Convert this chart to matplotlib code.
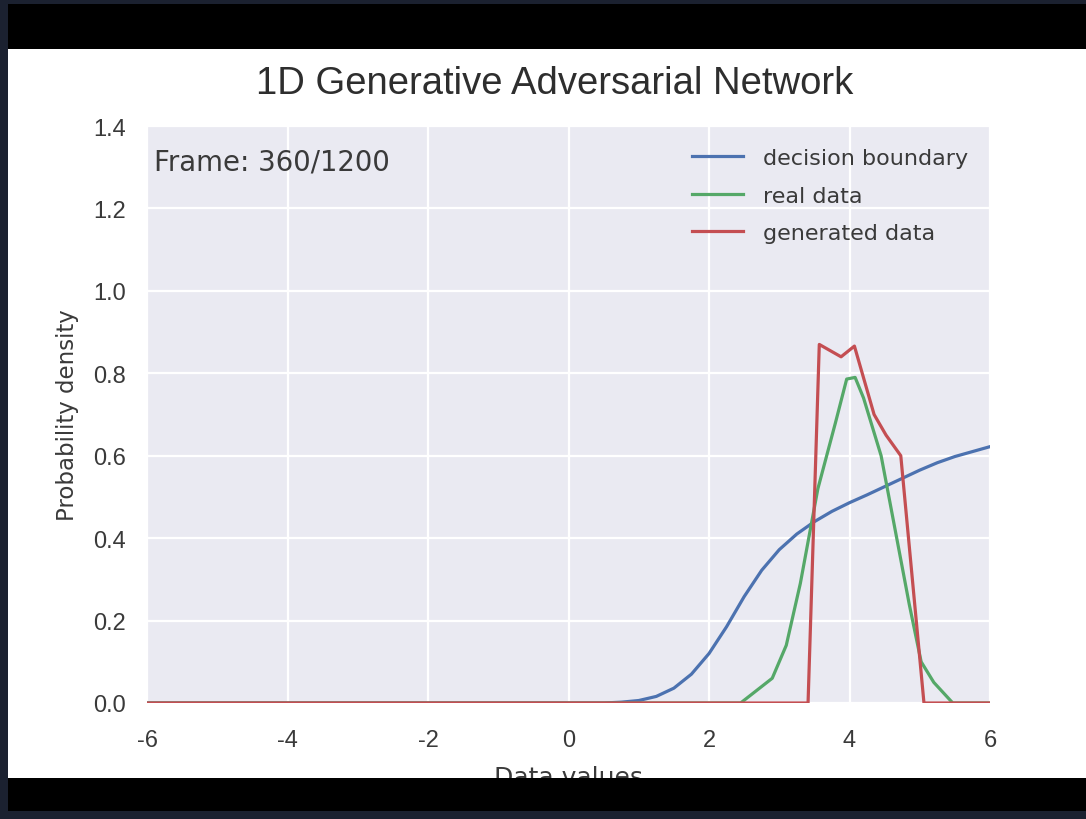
import matplotlib
matplotlib.use("Agg")
import matplotlib.pyplot as plt
from matplotlib.patches import Rectangle

# ---------------- data ----------------
title_text = "1D Generative Adversarial Network"
frame_label = "Frame: 360/1200"
series_names = ["decision boundary", "real data", "generated data"]

db_x = [-6.0, 0.5, 0.75, 1.0, 1.25, 1.5, 1.75, 2.0, 2.25, 2.5, 2.75, 3.0, 3.25,
        3.5, 3.75, 4.0, 4.25, 4.5, 4.75, 5.0, 5.25, 5.5, 5.75, 6.0]
db_y = [0.0, 0.0, 0.002, 0.006, 0.016, 0.036, 0.07, 0.12, 0.185, 0.258, 0.322,
        0.372, 0.41, 0.44, 0.465, 0.486, 0.505, 0.525, 0.545, 0.565, 0.583,
        0.598, 0.61, 0.622]

real_x = [-6.0, 2.45, 2.9, 3.1, 3.3, 3.55, 3.8, 3.96, 4.08, 4.2, 4.45, 4.65,
          4.85, 5.02, 5.2, 5.47, 6.0]
real_y = [0.0, 0.0, 0.06, 0.14, 0.29, 0.52, 0.68, 0.786, 0.79, 0.74, 0.60,
          0.42, 0.24, 0.10, 0.05, 0.0, 0.0]

gen_x = [-6.0, 3.41, 3.57, 3.88, 4.07, 4.35, 4.52, 4.73, 5.06, 6.0]
gen_y = [0.0, 0.0, 0.87, 0.84, 0.866, 0.70, 0.65, 0.60, 0.0, 0.0]

xticks = [-6, -4, -2, 0, 2, 4, 6]
xtick_labels = ["-6", "-4", "-2", "0", "2", "4", "6"]
yticks = [0.0, 0.2, 0.4, 0.6, 0.8, 1.0, 1.2, 1.4]
ytick_labels = ["0.0", "0.2", "0.4", "0.6", "0.8", "1.0", "1.2", "1.4"]

# ---------------- style ----------------
plt.rcParams["axes.unicode_minus"] = False
W, H = 1086, 820
fig = plt.figure(figsize=(W / 100, H / 100), dpi=100, facecolor="white")

ax = fig.add_axes([147 / W, 1 - 704 / H, (990 - 147) / W, (704 - 127) / H])
ax.set_facecolor("#EAEAF2")
for s in ax.spines.values():
    s.set_visible(False)
ax.grid(True, color="white", linewidth=1.6)
ax.set_axisbelow(True)

c_blue, c_green, c_red = "#4C72B0", "#55A868", "#C44E52"
ax.plot(db_x, db_y, color=c_blue, lw=2.3, label=series_names[0])
ax.plot(real_x, real_y, color=c_green, lw=2.3, label=series_names[1])
ax.plot(gen_x, gen_y, color=c_red, lw=2.3, label=series_names[2])

ax.set_xlim(-6, 6)
ax.set_ylim(0, 1.4)
txtc = "#3a3a3a"
ax.set_xticks(xticks)
ax.set_xticklabels(xtick_labels, fontfamily="Liberation Sans", fontsize=17, color=txtc)
ax.set_yticks(yticks)
ax.set_yticklabels(ytick_labels, fontfamily="Liberation Sans", fontsize=17, color=txtc)
ax.tick_params(axis="x", length=0, pad=18.5)
ax.tick_params(axis="y", length=0, pad=15)

ax.set_xlabel("Data values", fontfamily="DejaVu Sans", fontsize=18, color=txtc, labelpad=10)
ax.set_ylabel("Probability density", fontfamily="DejaVu Sans", fontsize=16.5, color=txtc, labelpad=10)
ax.set_title(title_text, fontfamily="Liberation Sans", fontsize=27.5, color="#2e2e2e",
             pad=24, x=0.484)

ax.text(0.008, 0.962, frame_label, transform=ax.transAxes, ha="left", va="top",
        fontfamily="DejaVu Sans", fontsize=19.8, color=txtc)

leg = ax.legend(loc="upper right", frameon=False, handlelength=2.3, handletextpad=0.9,
                labelspacing=0.78, borderaxespad=0.6,
                prop={"family": "DejaVu Sans", "size": 16})
for t in leg.get_texts():
    t.set_color(txtc)

# ---------------- video frame borders ----------------
navy = "#1b2130"
def rect(x0, y0, x1, y1, color):
    fig.patches.append(Rectangle((x0 / W, 1 - y1 / H), (x1 - x0) / W, (y1 - y0) / H,
                                 transform=fig.transFigure, facecolor=color,
                                 edgecolor="none", zorder=5))

rect(0, 0, 8, H, navy)
rect(0, 0, W, 5, navy)
rect(0, 812, W, H, navy)
rect(8, 5, W, 50, "black")
rect(8, 779, W, 812, "black")

fig.savefig("out.png", dpi=100, facecolor=fig.get_facecolor())
